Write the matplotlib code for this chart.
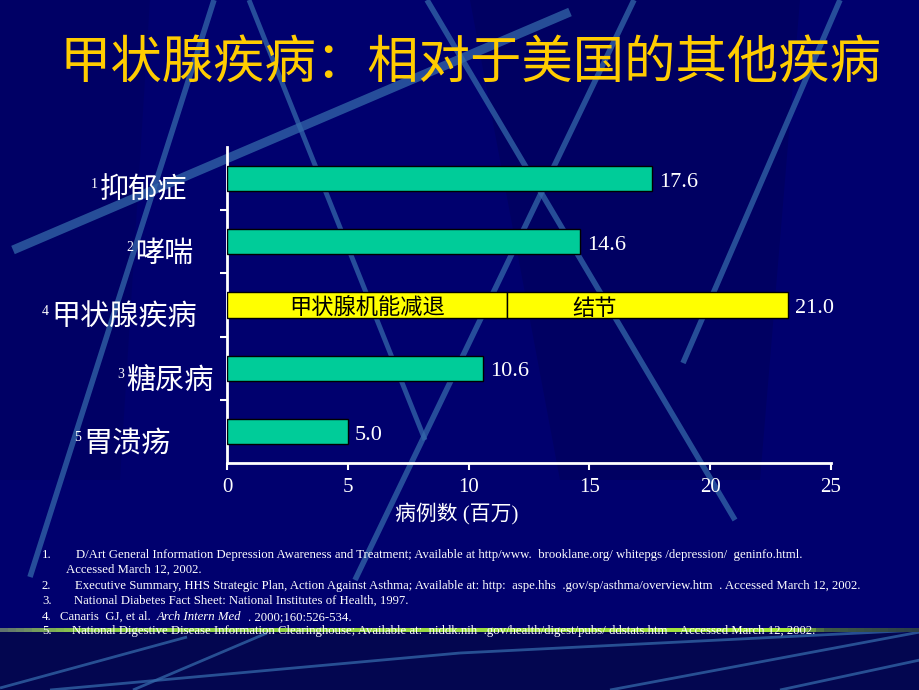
import numpy as np
import matplotlib.pyplot as plt
from matplotlib.colors import LinearSegmentedColormap

plt.rcParams['font.family'] = ['Liberation Serif', 'Noto Sans CJK SC']

# data
categories = ['抑郁症', '哮喘', '甲状腺疾病', '糖尿病', '胃溃疡']
refs = ['1', '2', '4', '3', '5']
values = [17.6, 14.6, 21.0, 10.6, 5.0]
thyroid_idx = 2
thyroid_parts = ['甲状腺机能减退', '结节']
thyroid_widths = [11.6, 11.6]
xticks = [0, 5, 10, 15, 20, 25]

title = '甲状腺疾病：相对于美国的其他疾病'
xlabel = '病例数 (百万)'
footnotes = [
    ('1.', 'D/Art General Information Depression Awareness and Treatment; Available at http/www.  brooklane.org/ whitepgs /depression/  geninfo.html.'),
    ('', 'Accessed March 12, 2002.'),
    ('2.', 'Executive Summary, HHS Strategic Plan, Action Against Asthma; Available at: http:  aspe.hhs  .gov/sp/asthma/overview.htm  . Accessed March 12, 2002.'),
    ('3.', 'National Diabetes Fact Sheet: National Institutes of Health, 1997.'),
    ('4.', None),
    ('5.', 'National Digestive Disease Information Clearinghouse; Available at:  niddk.nih  .gov/health/digest/pubs/ ddstats.htm  . Accessed March 12, 2002.'),
]

BG = '#00006E'
GREEN = '#00CC99'
YELLOW = '#FFFF00'
TITLE_C = '#FFCC00'
LINE_C = '#3468AA'

fig = plt.figure(figsize=(9.2, 6.9), dpi=100, facecolor=BG)

# background decoration, pixel coordinates
bg = fig.add_axes([0, 0, 1, 1], zorder=-10)
bg.set_xlim(0, 920)
bg.set_ylim(690, 0)
bg.axis('off')
bg.fill([470, 800, 760, 560], [0, 0, 480, 480], color='#00005A', alpha=0.6, lw=0)
bg.fill([0, 150, 120, 0], [0, 0, 480, 480], color='#00005E', alpha=0.5, lw=0)
bg.fill([0, 920, 920, 0], [632, 632, 690, 690], color='#030650', lw=0)

# green rule behind the last footnote
band = LinearSegmentedColormap.from_list(
    'band', [(0, '#5E6E70'), (0.08, '#8CCB4A'), (0.86, '#A6E83A'), (0.9, '#3E5A44'), (1, '#2A3C48')])
edges = np.linspace(0, 920, 116)
for a, b in zip(edges[:-1], edges[1:]):
    bg.fill([a, b + 0.5, b + 0.5, a], [627.5, 627.5, 631.5, 631.5],
            color=band((a + b) / 2 / 920), lw=0, zorder=2)

deco = [
    ((13, 570), (250, 12), 6.5),
    ((30, 214), (577, 0), 4),
    ((249, 425), (0, 440), 3.5),
    ((427, 735), (0, 520), 4),
    ((840, 683), (0, 363), 4),
    ((634, 355), (0, 580), 4),
    ((0, 187), (688, 637), 2),
    ((50, 460), (690, 653), 2),
    ((133, 267), (690, 633), 2),
    ((460, 920), (653, 630), 2),
    ((610, 920), (690, 632), 2),
    ((780, 920), (690, 660), 2),
]
for xs, ys, w in deco:
    bg.plot(xs, ys, color=LINE_C, lw=w, alpha=0.75, solid_capstyle='butt', zorder=1)

# main chart
ax = fig.add_axes([227 / 920, 1 - 463 / 690, 604 / 920, 316 / 690])
ax.patch.set_alpha(0)
y = np.arange(len(categories))

green_y = [i for i in y if i != thyroid_idx]
green_v = [values[i] for i in green_y]
ax.barh(green_y, green_v, height=0.4, color=GREEN, edgecolor='black', lw=1, zorder=3)

lefts = np.concatenate([[0], np.cumsum(thyroid_widths)[:-1]])
ax.barh([thyroid_idx] * len(thyroid_widths), thyroid_widths, left=lefts, height=0.42,
        color=YELLOW, edgecolor='black', lw=1, zorder=3)
label_frac = [0.5, 0.31]
for part, left, w, f in zip(thyroid_parts, lefts, thyroid_widths, label_frac):
    ax.text(left + w * f, thyroid_idx + 0.05, part, ha='center', va='center', color='black',
            fontsize=16, family=['Noto Sans CJK SC'], zorder=4)

for i, v in enumerate(values):
    end = sum(thyroid_widths) if i == thyroid_idx else v
    ax.text(end + 0.3, i + 0.06, f'{v:.1f}', ha='left', va='center', color='white',
            fontsize=16, zorder=4)

ax.set_xlim(0, 25)
ax.set_ylim(len(categories) - 0.5, -0.5)
ax.set_xticks(xticks)
ax.set_xticklabels([str(t) for t in xticks])
ax.set_yticks(y[:-1] + 0.5)
ax.set_yticklabels([])
ax.tick_params(axis='x', colors='white', labelsize=15, length=5, width=1.5, pad=6)
ax.tick_params(axis='y', colors='white', length=5, width=1.5)
for s in ['top', 'right']:
    ax.spines[s].set_visible(False)
for s in ['left', 'bottom']:
    ax.spines[s].set_color('white')
    ax.spines[s].set_linewidth(2)
ax.set_xlabel(xlabel, color='white', fontsize=15)
ax.xaxis.set_label_coords(230 / 604, -40 / 316)

# category labels with reference superscripts
label_right = [-0.066, -0.056, -0.050, -0.022, -0.093]
trans = ax.get_yaxis_transform()
renderer = fig.canvas.get_renderer()
for i, (name, ref) in enumerate(zip(categories, refs)):
    t = ax.text(label_right[i], i + 0.2, name, transform=trans, ha='right', va='center',
                color='white', fontsize=21, family=['Noto Sans CJK SC'])
    bb = t.get_window_extent(renderer)
    ax.annotate(ref, (bb.x0 - 2, bb.y1 - 2), xycoords='figure pixels', ha='right', va='top',
                color='white', fontsize=10)

fig.text(471 / 920, 1 - 63 / 690, title, ha='center', va='center', color=TITLE_C,
         fontsize=37, family=['Noto Sans CJK SC'], weight='medium')

# footnotes
foot_y = [555, 570, 586, 601, 617, 631]
text_x = [76, 66, 75, 74, None, 72]
fs = 9.2
for (num, txt), yy, tx in zip(footnotes, foot_y, text_x):
    fy = 1 - yy / 690
    if num:
        fig.text(42 / 920, fy, num, color='white', fontsize=fs, va='center')
    if txt is not None:
        fig.text(tx / 920, fy, txt, color='white', fontsize=fs, va='center')
    else:
        fig.text(60 / 920, fy, 'Canaris  GJ, et al.', color='white', fontsize=fs, va='center')
        fig.text(157 / 920, fy, 'Arch Intern Med', color='white', fontsize=fs, va='center', style='italic')
        fig.text(248 / 920, fy, '. 2000;160:526-534.', color='white', fontsize=fs, va='center')

fig.savefig('out.png', dpi=100, facecolor=BG)
